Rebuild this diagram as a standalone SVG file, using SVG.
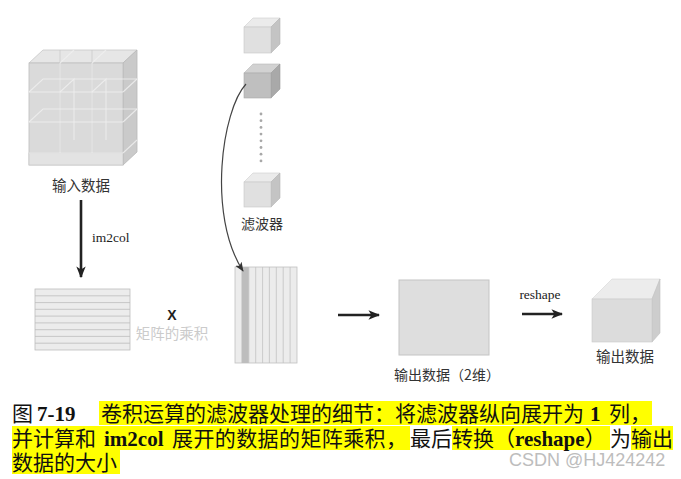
<svg xmlns="http://www.w3.org/2000/svg" width="681" height="479" viewBox="0 0 681 479">
<style>
.lbl{font-family:"Noto Sans CJK SC","Liberation Serif",serif;fill:#333;}
.ser{font-family:"Liberation Serif",serif;fill:#222;}
.cap{font-family:"Liberation Serif","Noto Sans CJK SC",serif;font-size:21px;fill:#111;}
.b{font-weight:bold;}
.hl{fill:#ffff00;}
.arr{stroke:#222;stroke-width:2.6;fill:none;}
.grid{stroke:#eeeeee;stroke-width:1.1;fill:none;opacity:0.85;}
.gridd{stroke:#c2c2c2;stroke-width:0.6;fill:none;}
</style>
<defs>
<marker id="ah" viewBox="0 0 10 10" refX="9" refY="5" markerWidth="4.5" markerHeight="4.5" orient="auto" markerUnits="strokeWidth">
<path d="M0,1 L10,5 L0,9 L2.5,5 Z" fill="#222"/>
</marker>
<marker id="ahs" viewBox="0 0 10 10" refX="9" refY="5" markerWidth="8" markerHeight="8" orient="auto" markerUnits="strokeWidth">
<path d="M0,1 L10,5 L0,9 L2.5,5 Z" fill="#333"/>
</marker>
</defs>
<rect width="681" height="479" fill="#fff"/>

<g id="input-data">
<polygon points="29,63 43,50 137,50 123,63" fill="#e6e6e6" stroke="#c8c8c8" stroke-width="0.8"/>
<polygon points="123,63 137,50 137,152 123,165" fill="#cacaca" stroke="#b8b8b8" stroke-width="0.8"/>
<rect x="29" y="63" width="94" height="102" fill="#dadada" stroke="#bdbdbd" stroke-width="0.8"/>
<rect x="29" y="153" width="94" height="12" fill="#e3e3e3" stroke="#c4c4c4" stroke-width="0.6"/>
<line class="gridd" x1="60" y1="50" x2="60" y2="153"/>
<line class="gridd" x1="92" y1="50" x2="92" y2="153"/>
<polyline class="grid" points="60,63 74,50"/>
<polyline class="grid" points="92,63 106,50"/>
<line class="grid" x1="29" y1="92" x2="123" y2="92"/>
<line class="grid" x1="29" y1="122" x2="123" y2="122"/>
<line class="grid" x1="29" y1="153" x2="123" y2="153"/>
<polyline class="grid" points="29,92 43,79 137,79"/>
<polyline class="grid" points="29,122 43,109 137,109"/>
<polyline class="grid" points="60,92 74,79 74,140"/>
<polyline class="grid" points="92,92 106,79 106,140"/>
<line class="grid" x1="123" y1="92" x2="137" y2="79"/>
<line class="grid" x1="123" y1="122" x2="137" y2="109"/>
<line class="grid" x1="123" y1="153" x2="137" y2="140"/>
<line class="grid" x1="60" y1="63" x2="60" y2="153"/>
<line class="grid" x1="92" y1="63" x2="92" y2="153"/>
<text class="lbl" x="81" y="191" font-size="14.5" text-anchor="middle">输入数据</text>
</g>

<g id="filters">
<g id="filter-1">
<polygon points="244,27 253,18 280,18 271,27" fill="#ebebeb" stroke="#cfcfcf" stroke-width="0.6"/>
<polygon points="271,27 280,18 280,44 271,53" fill="#c4c4c4" stroke="#b5b5b5" stroke-width="0.6"/>
<rect x="244" y="27" width="27" height="26" fill="#e0e0e0" stroke="#c6c6c6" stroke-width="0.6"/>
</g>
<g id="filter-2">
<polygon points="244,73 253,64 280,64 271,73" fill="#d2d2d2" stroke="#b8b8b8" stroke-width="0.6"/>
<polygon points="271,73 280,64 280,89 271,98" fill="#a9a9a9" stroke="#9a9a9a" stroke-width="0.6"/>
<rect x="244" y="73" width="27" height="25" fill="#bfbfbf" stroke="#a8a8a8" stroke-width="0.6"/>
</g>
<g id="dots" fill="#a8a8a8">
<circle cx="261" cy="114" r="1.4"/><circle cx="261" cy="120.7" r="1.4"/><circle cx="261" cy="127.4" r="1.4"/><circle cx="261" cy="134.1" r="1.4"/><circle cx="261" cy="140.8" r="1.4"/><circle cx="261" cy="147.5" r="1.4"/><circle cx="261" cy="154.2" r="1.4"/><circle cx="261" cy="160.9" r="1.4"/>
</g>
<g id="filter-n">
<polygon points="244,182 253,173 280,173 271,182" fill="#ebebeb" stroke="#cfcfcf" stroke-width="0.6"/>
<polygon points="271,182 280,173 280,198 271,207" fill="#c4c4c4" stroke="#b5b5b5" stroke-width="0.6"/>
<rect x="244" y="182" width="27" height="25" fill="#e0e0e0" stroke="#c6c6c6" stroke-width="0.6"/>
</g>
<text class="lbl" x="262" y="229" font-size="14" text-anchor="middle">滤波器</text>
</g>

<g id="input-matrix">
<rect x="35" y="289" width="95" height="61" fill="#ececec" stroke="#bdbdbd" stroke-width="0.8"/>
<g stroke="#bcbcbc" stroke-width="0.8">
<line x1="35" y1="295.8" x2="130" y2="295.8"/><line x1="35" y1="302.6" x2="130" y2="302.6"/><line x1="35" y1="309.3" x2="130" y2="309.3"/><line x1="35" y1="316.1" x2="130" y2="316.1"/><line x1="35" y1="322.9" x2="130" y2="322.9"/><line x1="35" y1="329.7" x2="130" y2="329.7"/><line x1="35" y1="336.4" x2="130" y2="336.4"/><line x1="35" y1="343.2" x2="130" y2="343.2"/>
</g>
</g>

<g id="multiply">
<text x="172" y="320" font-family="Liberation Sans,sans-serif" font-weight="bold" font-size="14" fill="#222" text-anchor="middle">X</text>
<text x="172" y="339" font-family="Noto Sans CJK SC,serif" font-size="14.5" fill="#cbcbcb" text-anchor="middle">矩阵的乘积</text>
</g>

<g id="filter-matrix">
<rect x="235" y="267" width="62" height="96" fill="#ececec" stroke="#c0c0c0" stroke-width="0.8"/>
<rect x="241.9" y="267" width="6.9" height="96" fill="#bdbdbd"/>
<g stroke="#c2c2c2" stroke-width="0.8">
<line x1="241.9" y1="267" x2="241.9" y2="363"/><line x1="248.8" y1="267" x2="248.8" y2="363"/><line x1="255.7" y1="267" x2="255.7" y2="363"/><line x1="262.6" y1="267" x2="262.6" y2="363"/><line x1="269.4" y1="267" x2="269.4" y2="363"/><line x1="276.3" y1="267" x2="276.3" y2="363"/><line x1="283.2" y1="267" x2="283.2" y2="363"/><line x1="290.1" y1="267" x2="290.1" y2="363"/>
</g>
</g>

<g id="output-2d">
<rect x="399" y="280" width="90" height="75" fill="#dedede" stroke="#c4c4c4" stroke-width="1"/>
<text class="lbl" x="447" y="380" font-size="14" text-anchor="middle">输出数据（2维）</text>
</g>

<g id="output-data">
<polygon points="592,299 612,279 660,279 652,299" fill="#ececec" stroke="#d6d6d6" stroke-width="0.6"/>
<polygon points="652,299 660,279 660,333 652,342" fill="#cdcdcd" stroke="#c0c0c0" stroke-width="0.6"/>
<rect x="592" y="299" width="60" height="43" fill="#dcdcdc" stroke="#cacaca" stroke-width="0.6"/>
<text class="lbl" x="625" y="362" font-size="14.5" text-anchor="middle">输出数据</text>
</g>

<g id="connectors">
<line class="arr" x1="81" y1="200" x2="81" y2="277" marker-end="url(#ah)"/>
<text class="ser" x="92" y="242" font-size="13.5">im2col</text>
<path d="M246,84 C222,110 207,215 243,271" fill="none" stroke="#444" stroke-width="1.2" marker-end="url(#ahs)"/>
<line class="arr" x1="338" y1="315" x2="379" y2="315" marker-end="url(#ah)"/>
<line class="arr" x1="522" y1="314" x2="562" y2="314" marker-end="url(#ah)"/>
<text class="ser" x="540" y="299" font-size="13.5" text-anchor="middle">reshape</text>
</g>

<g id="caption">
<rect class="hl" x="99" y="401" width="553" height="24"/>
<rect class="hl" x="12" y="426" width="398" height="24"/>
<rect class="hl" x="452" y="426" width="158" height="24"/>
<rect class="hl" x="631" y="426" width="42" height="24"/>
<rect class="hl" x="12" y="450" width="108" height="24"/>
<text class="cap" x="12" y="421">图</text>
<text class="cap b" x="37" y="421">7-19</text>
<text class="cap" x="101" y="421">卷积运算的滤波器处理的细节：将滤波器纵向展开为</text>
<text class="cap b" x="590" y="421">1</text>
<text class="cap" x="609" y="421">列，</text>
<text class="cap" x="12" y="446">并计算和</text>
<text class="cap b" x="104" y="446">im2col</text>
<text class="cap" x="172" y="446" letter-spacing="0.4">展开的数据的矩阵乘积，</text>
<text class="cap" x="410" y="446">最后</text>
<text class="cap" x="452" y="446">转换（<tspan class="b">reshape</tspan>）</text>
<text class="cap" x="610" y="446">为</text>
<text class="cap" x="631" y="446">输出</text>
<text class="cap" x="12" y="470">数据的大小</text>
<text x="509" y="466" font-family="Liberation Sans,sans-serif" font-size="18" fill="#bdbdbd">CSDN @HJ424242</text>
</g>
</svg>
